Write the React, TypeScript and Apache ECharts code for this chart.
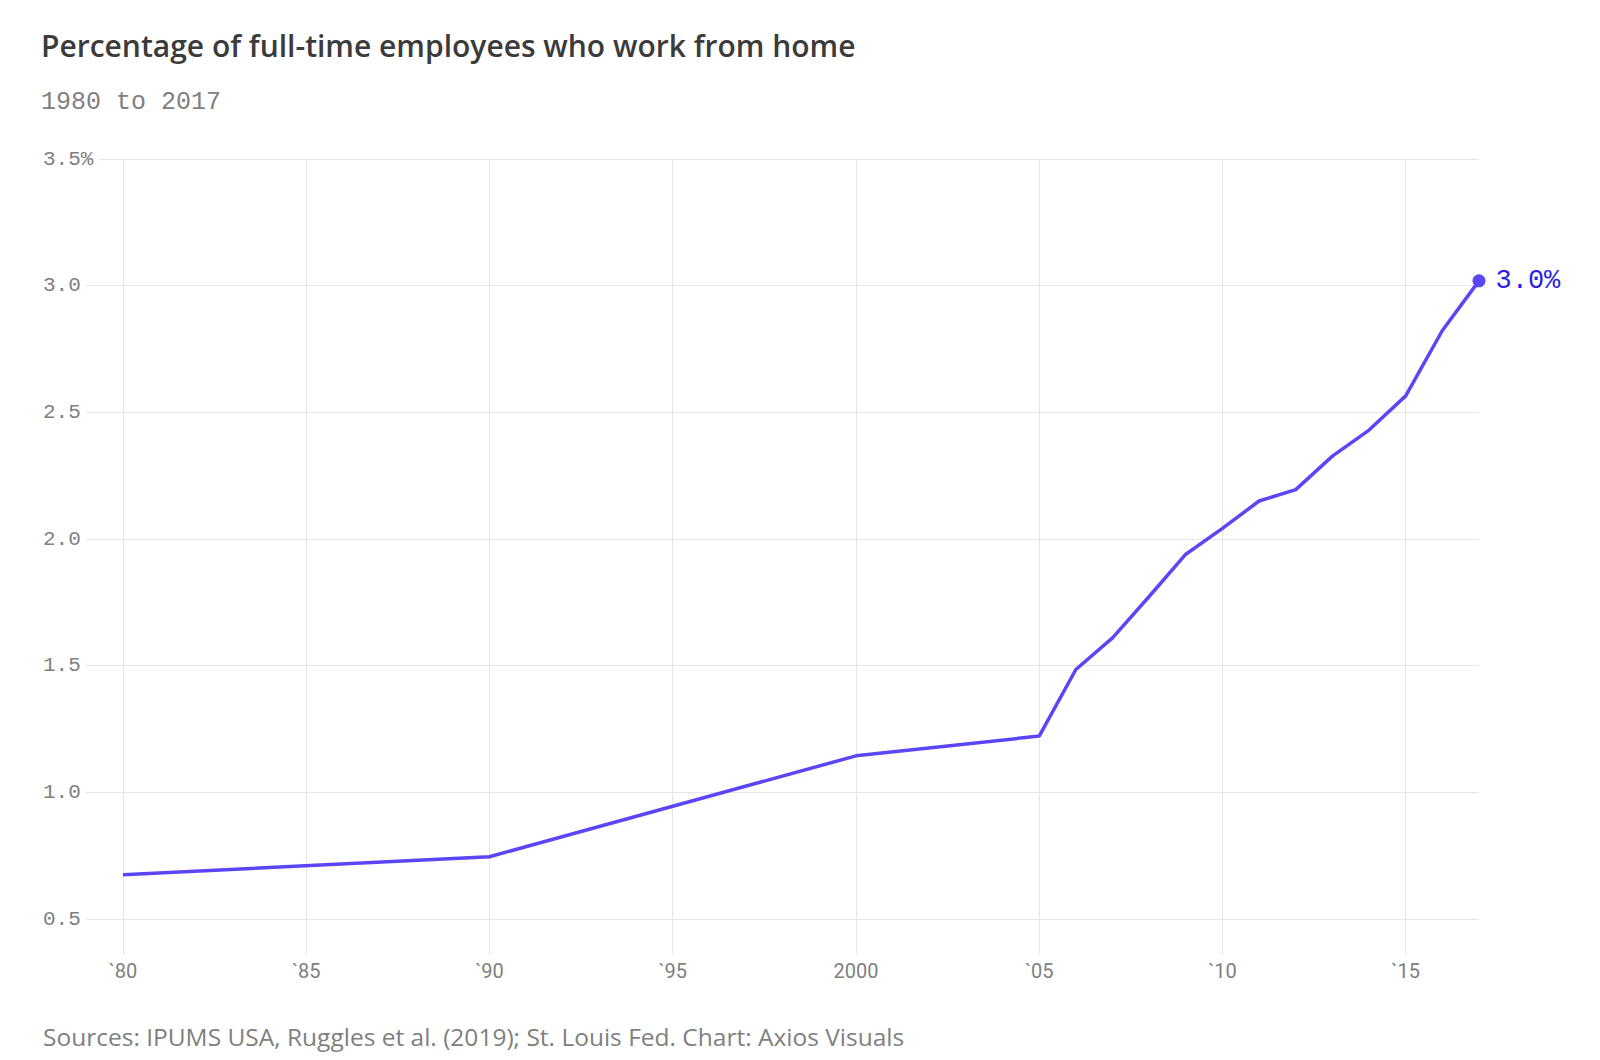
import React, { useEffect, useRef } from "react";
import * as echarts from "echarts";

const years = [1980, 1990, 2000, 2005, 2006, 2007, 2008, 2009, 2010, 2011, 2012, 2013, 2014, 2015, 2016, 2017];
const shares = [0.675, 0.746, 1.144, 1.222, 1.485, 1.61, 1.773, 1.94, 2.042, 2.15, 2.195, 2.327, 2.43, 2.565, 2.823, 3.019];
const xTickLabels: Record<number, string> = {
  1980: "`80", 1985: "`85", 1990: "`90", 1995: "`95", 2000: "2000", 2005: "`05", 2010: "`10", 2015: "`15",
};
const yTicks = [0.5, 1.0, 1.5, 2.0, 2.5, 3.0, 3.5];

const TITLE = "Percentage of full-time employees who work from home";
const SUBTITLE = "1980 to 2017";
const SOURCE = "Sources: IPUMS USA, Ruggles et al. (2019); St. Louis Fed. Chart: Axios Visuals";

const GRID = "#e6e6e6";
const GRAY = "#808080";
const LINE = "#5b46f5";
const LABEL_BLUE = "#2e1fe3";
const MONO = "'Liberation Mono', 'DejaVu Sans Mono', monospace";
const SANS = "'Open Sans', Lato, 'Noto Sans', sans-serif";

export default function App() {
  const ref = useRef<HTMLDivElement>(null);
  useEffect(() => {
    if (!ref.current) return;
    const chart = echarts.init(ref.current, null, { renderer: "svg" });
    const last = years.length - 1;
    const data = years.map((y, i) =>
      i === last
        ? {
            value: [y, shares[i]],
            symbol: "circle",
            symbolSize: 13,
            itemStyle: { color: LINE },
            label: {
              show: true,
              position: "right",
              distance: 10,
              formatter: (p: any) => p.value[1].toFixed(1) + "%",
              color: LABEL_BLUE,
              fontFamily: MONO,
              fontSize: 27,
            },
          }
        : { value: [y, shares[i]], symbol: "none" }
    );
    chart.setOption({
      animation: false,
      backgroundColor: "#ffffff",
      grid: [
        { left: 123, right: 121, top: 159, bottom: 105 },
        { left: 86, right: 121, top: 159, bottom: 141 },
      ],
      xAxis: [
        {
          type: "value",
          gridIndex: 0,
          min: 1980,
          max: 2017,
          interval: 5,
          axisLine: { show: false },
          axisTick: { show: false },
          splitLine: { show: true, showMaxLine: false, lineStyle: { color: GRID, width: 1 } },
          axisLabel: {
            showMaxLabel: false,
            margin: 6,
            color: GRAY,
            fontFamily: "Roboto, sans-serif",
            fontSize: 20,
            formatter: (v: number) => xTickLabels[v] ?? "",
          },
        },
        { type: "value", gridIndex: 1, min: 0, max: 1, show: false },
      ],
      yAxis: [
        { type: "value", gridIndex: 0, min: 0.5 - 36 / 253.4, max: 3.5, show: false, splitLine: { show: false } },
        {
          type: "value",
          gridIndex: 1,
          min: yTicks[0],
          max: yTicks[yTicks.length - 1],
          interval: 0.5,
          axisLine: { show: false },
          axisTick: { show: false },
          splitLine: { show: true, lineStyle: { color: GRID, width: 1 } },
          axisLabel: {
            align: "left",
            margin: 43,
            color: GRAY,
            fontFamily: MONO,
            fontSize: 21,
            formatter: (v: number) => (v === 3.5 ? "{t|3.5%}" : v.toFixed(1)),
            rich: {
              t: {
                color: GRAY,
                fontFamily: MONO,
                fontSize: 21,
                backgroundColor: "#ffffff",
                padding: [2, 6, 2, 0],
              },
            },
          },
        },
      ],
      series: [
        {
          type: "line",
          xAxisIndex: 0,
          yAxisIndex: 0,
          data,
          showSymbol: true,
          symbol: "none",
          lineStyle: { color: LINE, width: 3.5 },
          itemStyle: { color: LINE },
          z: 5,
        },
      ],
      graphic: [
        {
          type: "text",
          x: 41,
          y: 45,
          style: {
            text: TITLE,
            fill: "#3b3b3b",
            fontFamily: SANS,
            fontWeight: 600,
            fontSize: 30,
            verticalAlign: "middle",
            textVerticalAlign: "middle",
          },
        },
        {
          type: "text",
          x: 41,
          y: 102,
          style: {
            text: SUBTITLE,
            fill: GRAY,
            fontFamily: MONO,
            fontSize: 25,
            verticalAlign: "middle",
            textVerticalAlign: "middle",
          },
        },
        {
          type: "text",
          x: 43,
          y: 1036,
          style: {
            text: SOURCE,
            fill: GRAY,
            fontFamily: SANS,
            fontSize: 24.5,
            verticalAlign: "middle",
            textVerticalAlign: "middle",
          },
        },
      ],
    });
    return () => chart.dispose();
  }, []);
  return (
    <div
      ref={ref}
      style={{ position: "absolute", left: 0, top: 0, width: 1600, height: 1060, background: "#fff" }}
    />
  );
}
